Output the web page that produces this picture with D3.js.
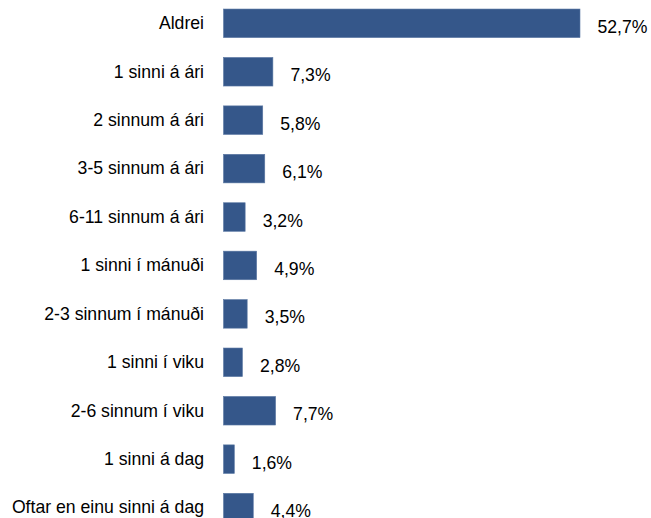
<!DOCTYPE html>
<html>
<head>
<meta charset="utf-8">
<script src="https://cdn.jsdelivr.net/npm/d3@7"></script>
<style>
  html, body { margin: 0; padding: 0; background: #fff; }
  svg { display: block; }
  text { font-family: "Liberation Sans", Arial, Helvetica, sans-serif; fill: #000; }
</style>
</head>
<body>
<svg id="chart" width="651" height="518"></svg>
<script>
const categories = [
  "Aldrei",
  "1 sinni á ári",
  "2 sinnum á ári",
  "3-5 sinnum á ári",
  "6-11 sinnum á ári",
  "1 sinni í mánuði",
  "2-3 sinnum í mánuði",
  "1 sinni í viku",
  "2-6 sinnum í viku",
  "1 sinni á dag",
  "Oftar en einu sinni á dag"
];
const values = [52.7, 7.3, 5.8, 6.1, 3.2, 4.9, 3.5, 2.8, 7.7, 1.6, 4.4];
const valueLabels = ["52,7%", "7,3%", "5,8%", "6,1%", "3,2%", "4,9%", "3,5%", "2,8%", "7,7%", "1,6%", "4,4%"];

const data = categories.map((c, i) => ({ cat: c, value: values[i], label: valueLabels[i] }));

const svg = d3.select("#chart");
const x0 = 223.5;
const x = d3.scaleLinear().domain([0, 52.7]).range([x0, 580]);
const y = d3.scaleBand()
  .domain(categories)
  .range([-0.9, 531.8])
  .paddingInner(0.41)
  .paddingOuter(0.205);

const fs = 18, sx = 0.98;

svg.selectAll("rect.bar")
  .data(data)
  .enter().append("rect")
  .attr("class", "bar")
  .attr("x", x(0))
  .attr("y", d => y(d.cat))
  .attr("width", d => x(d.value) - x(0))
  .attr("height", y.bandwidth())
  .attr("fill", "#35578a")
  .attr("stroke", "#5b78a3")
  .attr("stroke-width", 0.6);

svg.selectAll("text.cat")
  .data(data)
  .enter().append("text")
  .attr("class", "cat")
  .attr("transform", d => `translate(204,${y(d.cat) + y.bandwidth() / 2 + 5.8}) scale(${sx},1)`)
  .attr("text-anchor", "end")
  .attr("font-size", fs)
  .text(d => d.cat);

svg.selectAll("text.val")
  .data(data)
  .enter().append("text")
  .attr("class", "val")
  .attr("transform", d => `translate(${x(d.value) + 17.5},${y(d.cat) + y.bandwidth() / 2 + 9.5}) scale(${sx},1)`)
  .attr("text-anchor", "start")
  .attr("font-size", fs)
  .text(d => d.label);
</script>
</body>
</html>
